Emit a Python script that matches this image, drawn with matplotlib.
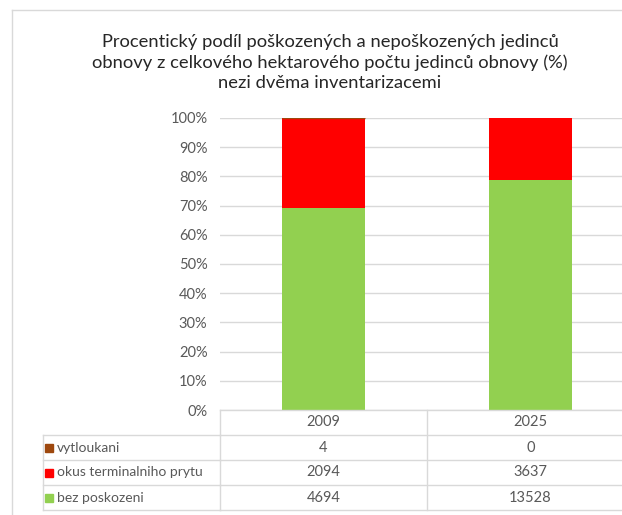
import matplotlib
matplotlib.use('Agg')
import matplotlib.pyplot as plt
import matplotlib.transforms as mtrans
from matplotlib.lines import Line2D
from matplotlib.patches import Rectangle
import numpy as np

years = ['2009', '2025']
series_names = ['vytloukani', 'okus terminalniho prytu', 'bez poskozeni']
vytloukani = [4, 0]
okus = [2094, 3637]
bez = [4694, 13528]
series_colors = ['#9E480E', '#FF0000', '#92D050']
title = ('Procentický podíl poškozených a nepoškozených jedinců\n'
         'obnovy z celkového hektarového počtu jedinců obnovy (%)\n'
         'nezi dvěma inventarizacemi')

FONT = ['Lato', 'DejaVu Sans']
plt.rcParams['font.family'] = FONT

W, H = 622, 515
fig = plt.figure(figsize=(W / 100, H / 100), dpi=100)

def fx(p):
    return p / W

def fy(p):
    return 1 - p / H

GRID = '#d9d9d9'
TXT = '#595959'

ax = fig.add_axes([fx(220), fy(410), fx(634) - fx(220), fy(118) - fy(410)])
ax.set_facecolor('none')

values = [vytloukani, okus, bez]
totals = np.sum(np.array(values, dtype=float), axis=0)
x = np.arange(len(years))
bottom = np.zeros(len(years))
for name, vals, col in reversed(list(zip(series_names, values, series_colors))):
    frac = np.array(vals, dtype=float) / totals * 100
    lw = [1.0 if (name == 'vytloukani' and v > 0) else 0 for v in vals]
    ax.bar(x, frac, bottom=bottom, width=0.4, color=col, edgecolor=col,
           linewidth=lw, zorder=3)
    bottom += frac

ax.set_xlim(-0.5, 1.5)
ax.set_ylim(0, 100)
ax.set_yticks(np.arange(0, 101, 10))
ax.set_yticklabels([f'{v}%' for v in range(0, 101, 10)], fontsize=10.5, color=TXT)
ax.set_xticks([])
ax.tick_params(axis='y', length=0, pad=9)
ax.grid(axis='y', color=GRID, linewidth=1, zorder=0)
for s in ax.spines.values():
    s.set_visible(False)

# data table below the axis
blend = mtrans.blended_transform_factory(ax.transData, fig.transFigure)
row_lines = [410, 435, 460, 485, 510]
label_left = fx(43)

def hline(x0, x1, ypx, trans):
    fig.add_artist(Line2D([x0, x1], [fy(ypx), fy(ypx)], transform=trans,
                          color=GRID, linewidth=1, clip_on=False))

def vline(xv, y0, y1, trans):
    fig.add_artist(Line2D([xv, xv], [fy(y0), fy(y1)], transform=trans,
                          color=GRID, linewidth=1, clip_on=False))

hline(-0.5, 1.5, 410, blend)
for yp in row_lines[1:]:
    hline(-0.5, 1.5, yp, blend)
    fig.add_artist(Line2D([label_left, fx(220)], [fy(yp), fy(yp)],
                          transform=fig.transFigure, color=GRID, linewidth=1))
for xv in [-0.5, 0.5, 1.5]:
    vline(xv, 410, 510, blend)
vline(label_left, 435, 510, fig.transFigure)

for i, yr in enumerate(years):
    fig.text(x[i], fy(422.5), yr, transform=blend, ha='center', va='center',
             fontsize=10.5, color=TXT)

for r, (name, vals, col) in enumerate(zip(series_names, values, series_colors)):
    yc = (row_lines[r + 1] + row_lines[r + 2]) / 2
    fig.add_artist(Rectangle((fx(45), fy(yc + 4)), fx(8), 8 / H,
                             transform=fig.transFigure, color=col))
    fig.text(fx(57), fy(yc), name, ha='left', va='center', fontsize=10, color=TXT)
    for i, v in enumerate(vals):
        fig.text(x[i], fy(yc), str(v), transform=blend, ha='center', va='center',
                 fontsize=10.5, color=TXT)

# chart border
fig.add_artist(Line2D([fx(12), fx(12)], [fy(10), 0], transform=fig.transFigure,
                      color=GRID, linewidth=1))
fig.add_artist(Line2D([fx(12), 1], [fy(10), fy(10)], transform=fig.transFigure,
                      color=GRID, linewidth=1))

fig.text(fx(330), fy(62.5), title, ha='center', va='center', fontsize=13.2,
         color='#262626', linespacing=1.3)

fig.savefig('out.png', dpi=100)
